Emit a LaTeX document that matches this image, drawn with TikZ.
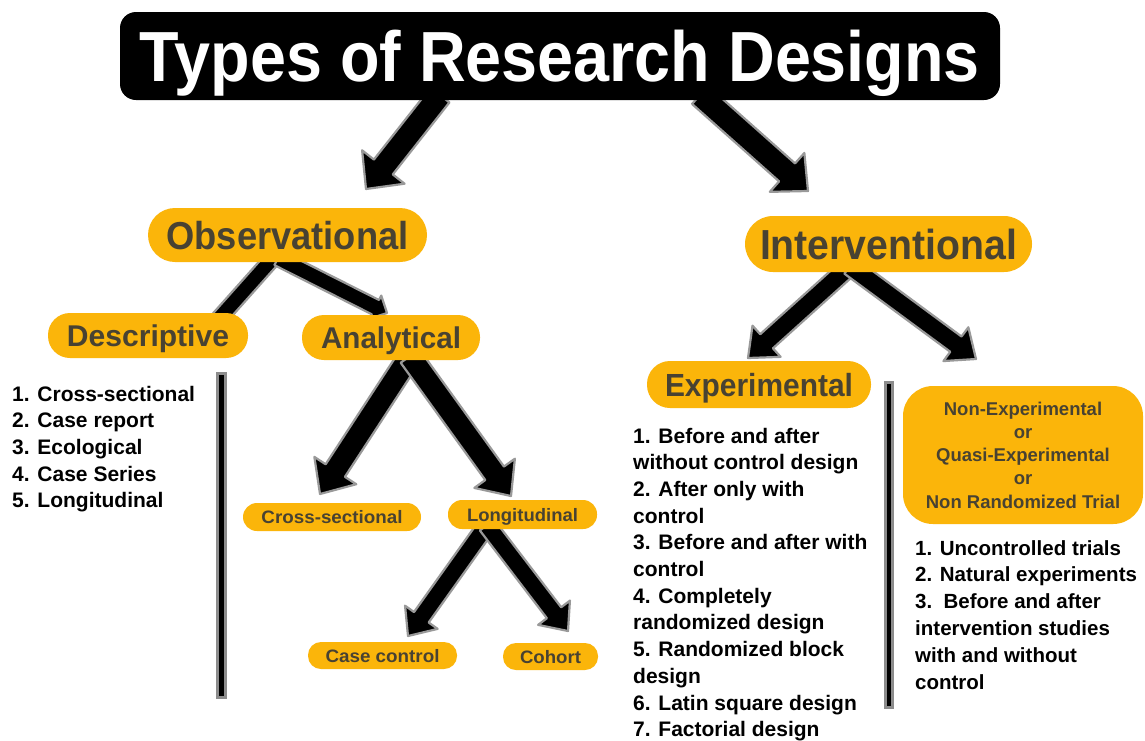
\documentclass[tikz,border=0pt]{standalone}
\usepackage{fontspec}
\setmainfont{Liberation Sans}
\usepackage{graphicx}
\usetikzlibrary{calc}
\definecolor{amber}{RGB}{251,181,10}
\definecolor{ink}{RGB}{72,66,50}
\pgfdeclarelayer{bg}
\pgfsetlayers{bg,main}

% bold text squeezed or stretched horizontally to a given width, without depth
\newcommand\fitw[3]{\raisebox{0pt}[\height][0pt]{\resizebox{#1pt}{\height}{\fontsize{#2}{#2}\selectfont\bfseries #3}}}

% thick block arrow: from, to, half shaft width, half head width, head length
\newcommand\fatarrow[5]{%
  \coordinate (hd) at ($(#2)!#5!(#1)$);
  \filldraw[arrowink] ($(#1)!#3!90:(#2)$) -- ($(hd)!#3!90:(#2)$) -- ($(hd)!#4!90:(#2)$)
    -- (#2) -- ($(hd)!#4!-90:(#2)$) -- ($(hd)!#3!-90:(#2)$) -- ($(#1)!#3!-90:(#2)$) -- cycle;}
% thick bar without head: from, to, half width
\newcommand\fatbar[3]{%
  \filldraw[arrowink] ($(#1)!#3!90:(#2)$) -- ($(#2)!#3!-90:(#1)$)
    -- ($(#2)!#3!90:(#1)$) -- ($(#1)!#3!-90:(#2)$) -- cycle;}

\tikzset{
  arrowink/.style={fill=black, draw=black!40, line width=2.2, line join=round},
  pill/.style={fill=amber, text=ink, rounded corners=#1, inner sep=0, outer sep=0},
  pill/.default=14,
  listtext/.style={anchor=base west, inner sep=0, text=black},
  divider/.style={fill=black, draw=black!45, line width=3},
}

\begin{document}
\begin{tikzpicture}[x=1pt, y=-1pt]
\useasboundingbox (0,0) rectangle (1145,740);

% title
\node[fill=black, rounded corners=16, inner sep=0, minimum width=880, minimum height=88, text=white]
  (title) at (560,56) {\fitw{840}{71}{Types of Research Designs}};

% first level
\node[pill=27, minimum width=279, minimum height=54] (obs) at (287.5,235)
  {\fitw{242}{39}{Observational}};
\node[pill=28, minimum width=287, minimum height=56] (int) at (888.5,244)
  {\fitw{257}{42}{Interventional}};

% observational branch
\node[pill=22, minimum width=200, minimum height=45] (desc) at (148,335.5)
  {\fitw{162}{30}{Descriptive}};
\node[pill=22, minimum width=178, minimum height=45] (anal) at (391,337.5)
  {\fitw{140}{30}{Analytical}};
\node[pill=14, minimum width=178, minimum height=28] (cross) at (332,517)
  {\fitw{141}{18}{Cross-sectional}};
\node[pill=14, minimum width=149, minimum height=29] (long) at (522.5,514.5)
  {\fitw{111}{18}{Longitudinal}};
\node[pill=13, minimum width=149, minimum height=27] (case) at (382.5,655.5)
  {\fitw{114}{18}{Case control}};
\node[pill=13, minimum width=95, minimum height=27] (cohort) at (550.5,656.5)
  {\fitw{61}{18}{Cohort}};

% interventional branch
\node[pill=23, minimum width=224, minimum height=47] (exp) at (759,384.5)
  {\fitw{188}{32}{Experimental}};
\node[pill=30, minimum width=240, minimum height=138, align=center,
      font=\fontsize{18.5}{23.3}\selectfont\bfseries] (nonexp) at (1023,455)
  {Non-Experimental\\or\\Quasi-Experimental\\or\\Non Randomized Trial};

% lists
\node[listtext] (dlist) at (12,401)
  {\fontsize{21}{26.7}\selectfont\bfseries\begin{tabular}[t]{@{}l@{}}
   1. Cross-sectional\\2. Case report\\3. Ecological\\4. Case Series\\5. Longitudinal
   \end{tabular}};
\node[listtext] (elist) at (633,443)
  {\fontsize{21}{26.7}\selectfont\bfseries\begin{tabular}[t]{@{}l@{}}
   1. Before and after\\without control design\\2. After only with\\control\\
   3. Before and after with\\control\\4. Completely\\randomized design\\
   5. Randomized block\\design\\6. Latin square design\\7. Factorial design
   \end{tabular}};
\node[listtext] (nlist) at (915,555)
  {\fontsize{20.5}{26.8}\selectfont\bfseries\begin{tabular}[t]{@{}l@{}}
   1. Uncontrolled trials\\2. Natural experiments\\3.\ \ Before and after\\
   intervention studies\\with and without\\control
   \end{tabular}};

% dividers
\filldraw[divider] (217,373) rectangle (225,697);
\filldraw[divider] (885,382) rectangle (892,707);

% connectors
\coordinate (t1) at (440,95);   \coordinate (t1e) at (366,189);
\coordinate (t2) at (700,95);   \coordinate (t2e) at (808,191);
\coordinate (o1) at (273,258);  \coordinate (o1e) at (216,322);
\coordinate (o2) at (278,258);  \coordinate (o2e) at (387,313);
\coordinate (a0) at (410,356);  \coordinate (a1e) at (320,494); \coordinate (a2e) at (511,496);
\coordinate (l0) at (487,525);  \coordinate (l1e) at (408,636); \coordinate (l2e) at (568,631);
\coordinate (i0) at (850,266);  \coordinate (i1e) at (748,358); \coordinate (i2e) at (976,359);
\begin{pgfonlayer}{bg}
  \fill[white] (0,0) rectangle (1145,740);
  \fatarrow{t1}{t1e}{12pt}{27pt}{28pt}
  \fatarrow{t2}{t2e}{12pt}{26pt}{28pt}
  \fatbar{o1}{o1e}{8pt}
  \fatarrow{o2}{o2e}{8pt}{13pt}{13pt}
  \fatarrow{a0}{a1e}{11.5pt}{25pt}{28pt}
  \fatarrow{a0}{a2e}{11.5pt}{25pt}{28pt}
  \fatarrow{l0}{l1e}{9pt}{20pt}{23pt}
  \fatarrow{l0}{l2e}{9pt}{20pt}{23pt}
  \fatarrow{i0}{i1e}{9.5pt}{21pt}{25pt}
  \fatarrow{i0}{i2e}{9.5pt}{21pt}{25pt}
\end{pgfonlayer}
\end{tikzpicture}
\end{document}
